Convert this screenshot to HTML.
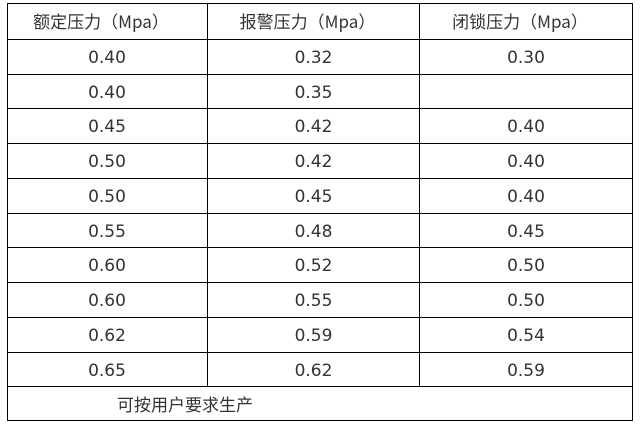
<!DOCTYPE html>
<html><head><meta charset="utf-8"><style>
body{margin:0;width:643px;height:425px;background:#fff;position:relative;overflow:hidden;font-family:"DejaVu Sans","Noto Sans CJK SC",sans-serif;color:#333;}
.h{position:absolute;left:7px;width:625px;height:1px;background:#000}
.v{position:absolute;width:1px;background:#000}
.c{position:absolute;width:200px;text-align:center;font-size:17px;line-height:34px}
.hd{font-family:"Noto Sans CJK SC","Liberation Serif",serif;font-size:17px}
</style></head><body>
<div class="h" style="top:3px"></div>
<div class="h" style="top:39px"></div>
<div class="h" style="top:74px"></div>
<div class="h" style="top:108px"></div>
<div class="h" style="top:143px"></div>
<div class="h" style="top:178px"></div>
<div class="h" style="top:213px"></div>
<div class="h" style="top:247px"></div>
<div class="h" style="top:282px"></div>
<div class="h" style="top:317px"></div>
<div class="h" style="top:352px"></div>
<div class="h" style="top:386px"></div>
<div class="h" style="top:420px"></div>
<div class="v" style="left:7px;top:3px;height:418px"></div>
<div class="v" style="left:632px;top:3px;height:418px"></div>
<div class="v" style="left:207px;top:3px;height:384px"></div>
<div class="v" style="left:419px;top:3px;height:384px"></div>
<div id="t"></div>
<script>
var cols=[7,208,420],w=[200,211,212];
var hd=["额定压力（Mpa）","报警压力（Mpa）","闭锁压力（Mpa）"];
var d=[["0.40","0.32","0.30"],["0.40","0.35",""],["0.45","0.42","0.40"],["0.50","0.42","0.40"],["0.50","0.45","0.40"],["0.55","0.48","0.45"],["0.60","0.52","0.50"],["0.60","0.55","0.50"],["0.62","0.59","0.54"],["0.65","0.62","0.59"]];
var tops=[39,74,108,143,178,213,247,282,317,352];
var s="";
for(var j=0;j<3;j++)s+='<div class="c hd" style="left:'+(cols[j]-6)+'px;width:'+w[j]+'px;top:4px">'+hd[j]+'</div>';
for(var i=0;i<10;i++)for(var j=0;j<3;j++)s+='<div class="c" style="left:'+cols[j]+'px;width:'+w[j]+'px;top:'+(tops[i]+2)+'px">'+d[i][j]+'</div>';
s+='<div class="c hd" style="left:117px;width:300px;text-align:left;top:387px">可按用户要求生产</div>';
document.getElementById("t").innerHTML=s;
</script>
</body></html>
